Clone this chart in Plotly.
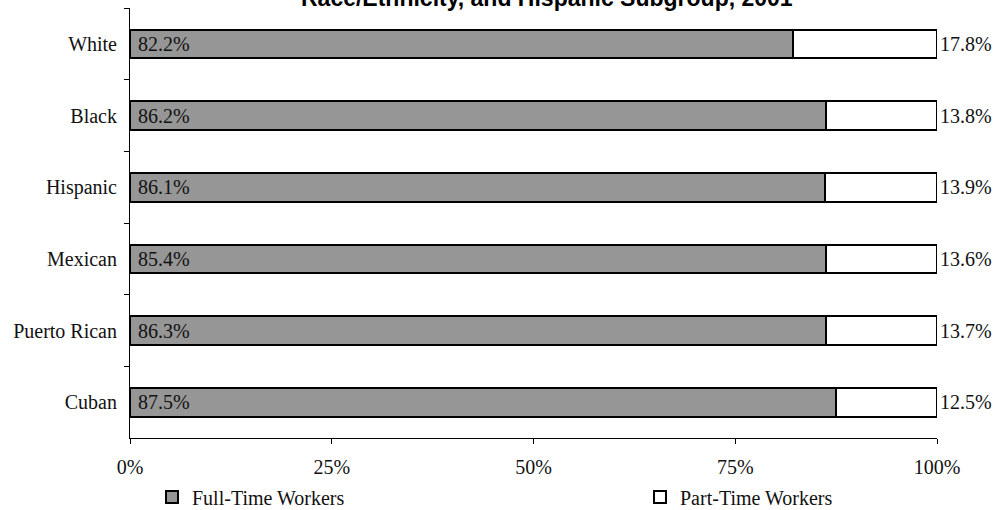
import plotly.graph_objects as go

groups = ["White", "Black", "Hispanic", "Mexican", "Puerto Rican", "Cuban"]
full_time = [82.2, 86.2, 86.1, 85.4, 86.3, 87.5]
part_time = [17.8, 13.8, 13.9, 13.6, 13.7, 12.5]
x_ticks = [0, 25, 50, 75, 100]
x_tick_labels = ["0%", "25%", "50%", "75%", "100%"]
title_text = "Race/Ethnicity, and Hispanic Subgroup, 2001"

serif = "Liberation Serif, Times New Roman, serif"
ink = "#111"

fig = go.Figure()
fig.add_trace(go.Bar(
    y=groups, x=full_time, orientation="h", name="Full-Time Workers",
    marker=dict(color="#969696", line=dict(color="black", width=2)),
    text=[f"{v:.1f}%" for v in full_time], texttemplate="\u00a0%{text}",
    textposition="inside", insidetextanchor="start", textangle=0, constraintext="none",
    textfont=dict(family=serif, size=20, color=ink),
    width=0.4, cliponaxis=False, legend="legend",
))
fig.add_trace(go.Bar(
    y=groups, x=part_time, orientation="h", name="Part-Time Workers",
    marker=dict(color="white", line=dict(color="black", width=2)),
    text=[f"{v:.1f}%" for v in part_time], textposition="outside", textangle=0,
    constraintext="none",
    textfont=dict(family=serif, size=20, color=ink),
    width=0.4, cliponaxis=False, legend="legend2",
))

legend_style = dict(orientation="h", xref="container", yref="container",
                    xanchor="left", y=1 - 497 / 510, yanchor="middle",
                    font=dict(family=serif, size=20, color=ink),
                    itemwidth=30, bgcolor="rgba(0,0,0,0)")

fig.update_layout(
    width=997, height=510,
    barmode="stack", barnorm="percent",
    paper_bgcolor="white", plot_bgcolor="white",
    margin=dict(l=130, r=60, t=8, b=72, autoexpand=False),
    font=dict(family=serif, size=20, color=ink),
    annotations=[dict(
        text=f"<b>{title_text}</b>", xref="paper", yref="paper",
        x=(547 - 130) / 807, xanchor="center", y=1 + 9.8 / 430, yanchor="middle",
        showarrow=False,
        font=dict(family="Liberation Sans, Arial, sans-serif", size=23, color="black"),
    )],
    showlegend=True,
    legend=dict(x=152 / 997, **legend_style),
    legend2=dict(x=640 / 997, **legend_style),
    xaxis=dict(range=[0, 100], tickvals=x_ticks, ticktext=x_tick_labels,
               showgrid=False, zeroline=False, showline=True, linecolor="black", linewidth=1,
               ticks="outside", ticklen=5, tickcolor="black", tickwidth=1,
               ticklabelstandoff=6),
    yaxis=dict(categoryorder="array", categoryarray=groups, autorange="reversed",
               showgrid=False, zeroline=False, showline=True, linecolor="black", linewidth=1,
               ticks="outside", ticklen=5, tickcolor="black", tickwidth=1,
               tickson="boundaries", ticklabelstandoff=8),
)

fig.write_html("out.html")
